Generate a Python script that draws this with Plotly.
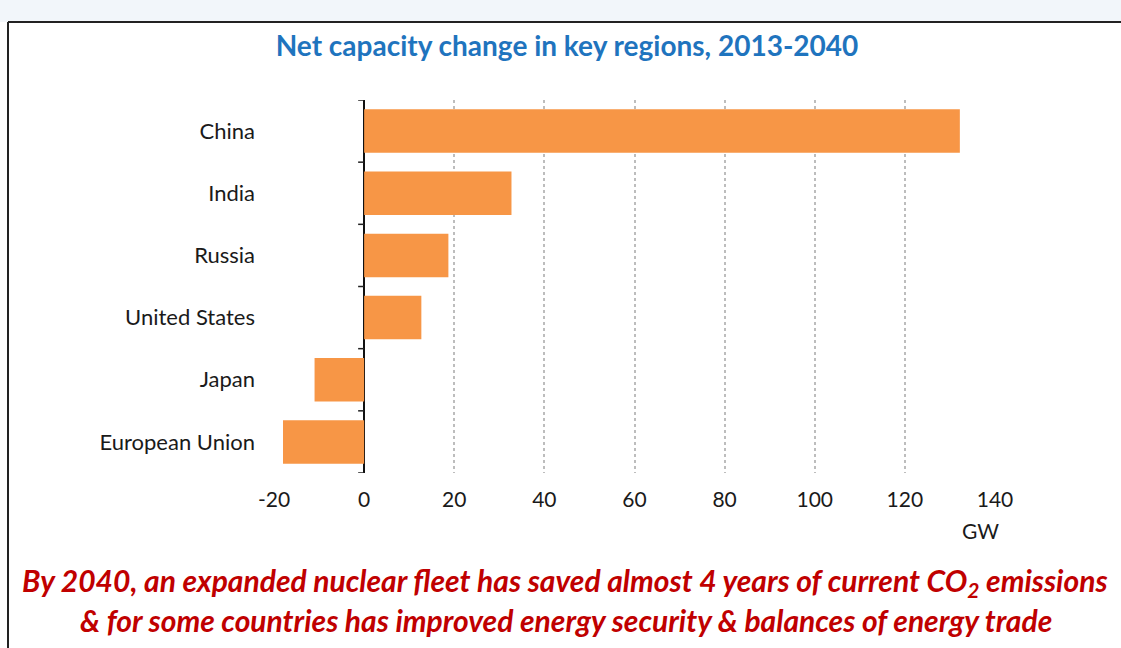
import plotly.graph_objects as go

regions = ["China", "India", "Russia", "United States", "Japan", "European Union"]
net_gw = [132.2, 32.7, 18.7, 12.7, -11.0, -18.0]
x_ticks = [-20, 0, 20, 40, 60, 80, 100, 120, 140]

W, H = 1121, 648
ML, MR, MT, MB = 274, 126, 100, 175
PW, PH = W - ML - MR, H - MT - MB

def px(x):
    return (x - ML) / PW

def py(y):
    return (H - MB - y) / PH

fig = go.Figure()
fig.add_trace(go.Bar(
    y=regions, x=net_gw, orientation="h",
    marker=dict(color="#F79646", line=dict(width=0)),
    width=0.7,
))

shapes = []
# slide background band at top
shapes.append(dict(type="rect", xref="paper", yref="paper", x0=px(0), x1=px(W), y0=py(22), y1=py(0),
                   fillcolor="#F2F6FA", line=dict(width=0), layer="above"))
# box border
shapes.append(dict(type="line", xref="paper", yref="paper", x0=px(8), x1=px(W + 5), y0=py(22), y1=py(22),
                   line=dict(color="#222222", width=2)))
shapes.append(dict(type="line", xref="paper", yref="paper", x0=px(8), x1=px(8), y0=py(22), y1=py(H + 5),
                   line=dict(color="#222222", width=2)))
# category-boundary ticks on the zero axis
for i in range(len(regions) + 1):
    shapes.append(dict(type="line", xref="x", yref="y", xsizemode="pixel", xanchor=0,
                       x0=-6, x1=0, y0=i - 0.5, y1=i - 0.5,
                       line=dict(color="#222222", width=1.5)))

fig.update_layout(
    width=W, height=H,
    margin=dict(l=ML, r=MR, t=MT, b=MB),
    paper_bgcolor="white", plot_bgcolor="white",
    showlegend=False,
    font=dict(family="Lato, Open Sans, sans-serif", size=21, color="#1a1a1a"),
    title=dict(text="<b>Net capacity change in key regions, 2013-2040</b>",
               xref="paper", x=(567 - ML) / PW, xanchor="center",
               yref="container", y=1 - 46 / H, yanchor="middle",
               font=dict(size=28, color="#1F74BE", family="Lato, Open Sans, sans-serif")),
    xaxis=dict(range=[-20, 140], tickvals=x_ticks, ticktext=[str(v) for v in x_ticks],
               showgrid=True, griddash="dot", gridcolor="#BDBDBD", gridwidth=2,
               zeroline=True, zerolinecolor="#111111", zerolinewidth=2,
               showline=False, ticks="", ticklabelstandoff=12,
               tickfont=dict(size=21)),
    yaxis=dict(categoryorder="array", categoryarray=regions, range=[5.5, -0.5],
               showgrid=False, zeroline=False, showline=False, ticks="",
               ticklabelstandoff=18, tickfont=dict(size=22)),
    shapes=shapes,
    annotations=[
        dict(text="GW", xref="paper", yref="paper", x=px(980), y=py(530),
             xanchor="center", yanchor="middle", showarrow=False, font=dict(size=21)),
        dict(text="<b><i>By 2040, an expanded nuclear fleet has saved almost 4 years of current CO<sub>2</sub> emissions</i></b>",
             xref="paper", yref="paper", x=px(565), y=py(582), xanchor="center", yanchor="middle",
             showarrow=False, font=dict(size=30, color="#C00000", family="Lato, sans-serif")),
        dict(text="<b><i>& for some countries has improved energy security & balances of energy trade</i></b>",
             xref="paper", yref="paper", x=px(566), y=py(620), xanchor="center", yanchor="middle",
             showarrow=False, font=dict(size=30, color="#C00000", family="Lato, sans-serif")),
    ],
)

fig.write_html("out.html")
